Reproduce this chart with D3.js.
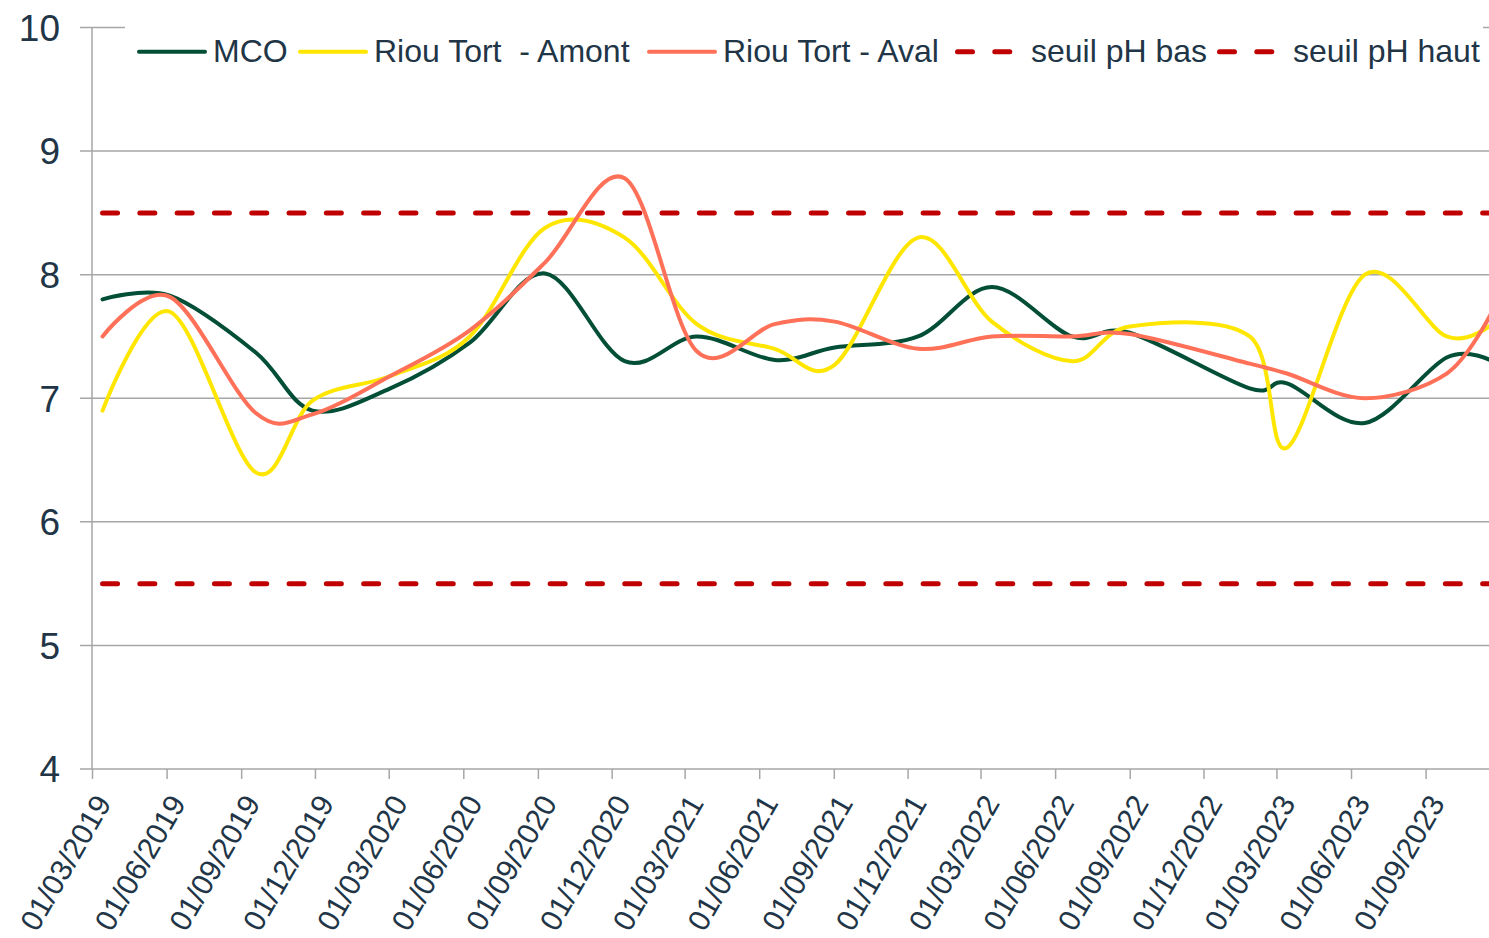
<!DOCTYPE html>
<html>
<head>
<meta charset="utf-8">
<script src="https://cdn.jsdelivr.net/npm/d3@7"></script>
<style>
  body { margin: 0; background: #fff; }
  text { font-family: "Liberation Sans", Arial, sans-serif; fill: #213547; }
</style>
</head>
<body>
<div id="chart"></div>
<script>
// x axis tick labels (quarterly)
const tickLabels = [
  "01/03/2019", "01/06/2019", "01/09/2019", "01/12/2019",
  "01/03/2020", "01/06/2020", "01/09/2020", "01/12/2020",
  "01/03/2021", "01/06/2021", "01/09/2021", "01/12/2021",
  "01/03/2022", "01/06/2022", "01/09/2022", "01/12/2022",
  "01/03/2023", "01/06/2023", "01/09/2023"
];
const yTicks = [4, 5, 6, 7, 8, 9, 10];

// sampling dates
const dates = [
  "14/03/2019", "05/06/2019", "19/09/2019", "28/11/2019",
  "03/03/2020", "09/06/2020", "10/09/2020", "17/12/2020",
  "16/03/2021", "20/06/2021", "02/09/2021", "14/12/2021",
  "15/03/2022", "22/06/2022", "01/09/2022", "27/01/2023",
  "14/03/2023", "18/06/2023", "27/09/2023", "22/11/2023"
];

// pH values
const mco   = [7.80, 7.83, 7.37, 6.90, 7.08, 7.45, 8.01, 7.30, 7.50, 7.31, 7.41, 7.50, 7.90, 7.50, 7.53, 7.08, 7.12, 6.80, 7.33, 7.30];
const amont = [6.90, 7.70, 6.40, 6.98, 7.18, 7.50, 8.38, 8.30, 7.60, 7.40, 7.27, 8.30, 7.62, 7.30, 7.58, 7.50, 6.60, 8.00, 7.50, 7.60];
const aval  = [7.50, 7.82, 6.88, 6.87, 7.18, 7.55, 8.10, 8.78, 7.38, 7.60, 7.62, 7.40, 7.50, 7.50, 7.52, 7.28, 7.20, 7.00, 7.20, 7.70];

const seuilBas = 5.5;
const seuilHaut = 8.5;

const seriesNames = ["MCO", "Riou Tort  - Amont", "Riou Tort - Aval", "seuil pH bas", "seuil pH haut"];
const seriesColors = ["#034e36", "#ffe600", "#ff7058", "#c00000", "#c00000"];

const width = 1489;
const height = 938;
const left = 92;
const gridColor = "#a6a6a6";

const parse = d3.timeParse("%d/%m/%Y");
const tickDates = tickLabels.map(parse);
const dateValues = dates.map(parse);

const svg = d3.select("#chart")
  .append("svg")
  .attr("width", width)
  .attr("height", height);

const x = d3.scaleTime()
  .domain([tickDates[0], tickDates[tickDates.length - 1]])
  .range([left, 1425.6]);

const y = d3.scaleLinear()
  .domain([4, 10])
  .range([769, 27.5]);

// gridlines
svg.append("g")
  .selectAll("line")
  .data(yTicks)
  .enter()
  .append("line")
  .attr("x1", 80)
  .attr("x2", width)
  .attr("y1", d => y(d))
  .attr("y2", d => y(d))
  .attr("stroke", gridColor)
  .attr("stroke-width", 1.5);

// y axis line
svg.append("line")
  .attr("x1", left).attr("x2", left)
  .attr("y1", y(10)).attr("y2", y(4))
  .attr("stroke", gridColor)
  .attr("stroke-width", 1.5);

// y labels
svg.append("g")
  .selectAll("text")
  .data(yTicks)
  .enter()
  .append("text")
  .attr("x", 60)
  .attr("y", d => y(d))
  .attr("dy", "0.36em")
  .attr("text-anchor", "end")
  .style("font-size", "37px")
  .text(d => d);

// x axis
const xAxis = svg.append("g")
  .attr("transform", `translate(0,${y(4)})`)
  .call(d3.axisBottom(x).tickValues(tickDates).tickSize(10).tickSizeOuter(0).tickFormat(""));
xAxis.select(".domain").remove();
xAxis.selectAll(".tick line").attr("stroke", gridColor).attr("stroke-width", 1.5);

svg.append("g")
  .selectAll("text")
  .data(tickDates)
  .enter()
  .append("text")
  .attr("transform", d => `translate(${x(d) + 20},803) rotate(-60)`)
  .attr("text-anchor", "end")
  .style("font-size", "30px")
  .text((d, i) => tickLabels[i]);

// series
const line = d3.line()
  .x(d => x(d.date))
  .y(d => y(d.value))
  .curve(d3.curveCatmullRom.alpha(0));

const series = [mco, amont, aval].map(vals => vals.map((v, i) => ({ date: dateValues[i], value: v })));

series.forEach((s, i) => {
  svg.append("path")
    .datum(s)
    .attr("d", line)
    .attr("fill", "none")
    .attr("stroke", seriesColors[i])
    .attr("stroke-width", 4)
    .attr("stroke-linecap", "round")
    .attr("stroke-linejoin", "round");
});

// thresholds
[seuilBas, seuilHaut].forEach((v, i) => {
  const pts = [dateValues[0], dateValues[dateValues.length - 1]].map(d => ({ date: d, value: v }));
  svg.append("path")
    .datum(pts)
    .attr("d", line)
    .attr("fill", "none")
    .attr("stroke", seriesColors[3 + i])
    .attr("stroke-width", 5)
    .attr("stroke-dasharray", "15 22.3")
    .attr("stroke-linecap", "round");
});

// legend
svg.append("rect")
  .attr("x", 125).attr("y", 18)
  .attr("width", 1358).attr("height", 64)
  .attr("fill", "#fff");

const legendY = 51.7;
const legendX = [137, 298, 647, 955, 1217];
seriesNames.forEach((name, i) => {
  const dashed = i >= 3;
  const x0 = legendX[i];
  svg.append("line")
    .attr("x1", x0 + (dashed ? 2.5 : 2))
    .attr("x2", x0 + (dashed ? 55 : 68))
    .attr("y1", legendY).attr("y2", legendY)
    .attr("stroke", seriesColors[i])
    .attr("stroke-width", dashed ? 5 : 4)
    .attr("stroke-linecap", "round")
    .attr("stroke-dasharray", dashed ? "15 22.3" : null);
  svg.append("text")
    .attr("x", x0 + 76)
    .attr("y", 62)
    .style("font-size", "32px")
    .style("white-space", "pre")
    .text(name);
});
</script>
</body>
</html>
